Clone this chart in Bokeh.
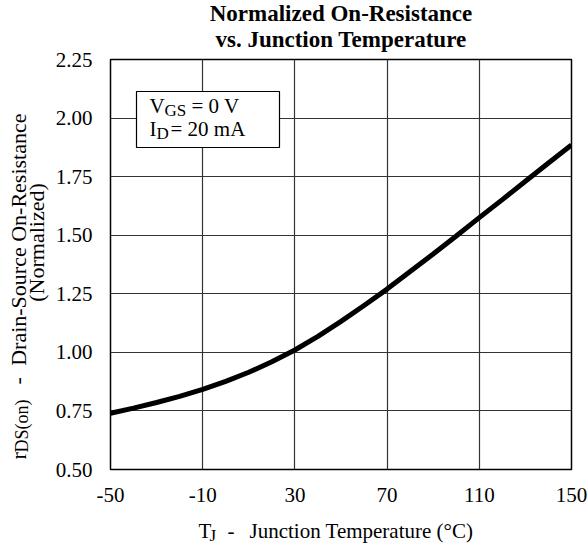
import numpy as np
from bokeh.plotting import figure
from bokeh.layouts import row, column
from bokeh.models import Range1d, FixedTicker, Label, BoxAnnotation
from bokeh.embed import file_html
from bokeh.resources import INLINE

# ---- data ----
temp_c = [-50, -40, -30, -20, -10, 0, 10, 20, 30, 40, 50, 60, 70,
          80, 90, 100, 110, 120, 130, 140, 150]
rds_norm = [0.740, 0.762, 0.786, 0.812, 0.842, 0.876, 0.915, 0.960, 1.010,
            1.068, 1.132, 1.200, 1.270, 1.345, 1.420, 1.497, 1.575,
            1.652, 1.730, 1.808, 1.885]
x_ticks = [-50, -10, 30, 70, 110, 150]
x_tick_labels = ["-50", "-10", "30", "70", "110", "150"]
y_ticks = [0.50, 0.75, 1.00, 1.25, 1.50, 1.75, 2.00, 2.25]
y_tick_labels = ["0.50", "0.75", "1.00", "1.25", "1.50", "1.75", "2.00", "2.25"]
title_lines = ["Normalized On-Resistance", "vs. Junction Temperature"]

FONT = "Liberation Serif"
X0, X1 = x_ticks[0], x_ticks[-1]
Y0, Y1 = y_ticks[0], y_ticks[-1]

# page geometry (pixels)
PW, PH = 587, 550
LW = 50            # width of left label strip
TH = 52            # height of title strip
FL, FR, FT, FB = 110, 571, 59, 469   # plot frame
XB = 515           # bottom of main figure / top of x-label strip
SHIFT = 0.3375     # label anchor sits this many em above the baseline


def blank_fig(w, h, x0, x1, y0, y1, bl=0, br=0, bt=0, bb=0):
    f = figure(width=w, height=h, output_backend="svg", toolbar_location=None,
               tools="", x_range=Range1d(x0, x1), y_range=Range1d(y1, y0),
               x_axis_type=None, y_axis_type=None,
               min_border=0, min_border_left=bl, min_border_right=br,
               min_border_top=bt, min_border_bottom=bb)
    f.title.visible = False
    f.outline_line_color = None
    f.grid.visible = False
    f.background_fill_color = "white"
    f.border_fill_color = "white"
    return f


def lab(f, text, px, py, size=21, align="left", rotated=False, bold=False):
    # (px, py) = page position of the text baseline start / centre / end
    if rotated:
        x, y, ang = px - SHIFT * size, py, np.pi / 2
    else:
        x, y, ang = px, py - SHIFT * size, 0.0
    f.add_layout(Label(x=x, y=y, text=text, text_font=FONT,
                       text_font_size=f"{size}px", text_align=align,
                       text_baseline="alphabetic", angle=ang,
                       text_color="black",
                       text_font_style="bold" if bold else "normal"))


# ---- main plot ----
MW, MH = PW - LW, XB - TH
p = figure(width=MW, height=MH, output_backend="svg", toolbar_location=None,
           tools="", x_range=Range1d(X0, X1), y_range=Range1d(Y0, Y1),
           min_border_left=FL - LW, min_border_right=PW - FR,
           min_border_top=FT - TH, min_border_bottom=XB - FB)
p.title.visible = False
p.background_fill_color = "white"
p.border_fill_color = "white"
p.outline_line_color = "black"
p.outline_line_width = 1.5


def dx(px):
    return X0 + (px - FL) / (FR - FL) * (X1 - X0)


def dy(py):
    return Y0 + (FB - py) / (FB - FT) * (Y1 - Y0)


for ax in (p.xaxis[0], p.yaxis[0]):
    ax.axis_line_color = None
    ax.major_tick_line_color = None
    ax.minor_tick_line_color = None
    ax.major_tick_in = 0
    ax.major_tick_out = 0
    ax.minor_tick_in = 0
    ax.minor_tick_out = 0
    ax.major_label_text_font = FONT
    ax.major_label_text_font_size = "21px"
    ax.major_label_text_color = "black"

p.xaxis.ticker = FixedTicker(ticks=x_ticks)
p.xaxis.major_label_overrides = {t: s for t, s in zip(x_ticks, x_tick_labels)}
p.xaxis.major_label_standoff = 18
p.yaxis.ticker = FixedTicker(ticks=y_ticks)
p.yaxis.major_label_overrides = {t: s for t, s in zip(y_ticks, y_tick_labels)}
p.yaxis.major_label_standoff = 18

p.xgrid.ticker = FixedTicker(ticks=x_ticks)
p.ygrid.ticker = FixedTicker(ticks=y_ticks)
for g in (p.xgrid[0], p.ygrid[0]):
    g.grid_line_color = "#333333"
    g.grid_line_width = 1.2

p.line(temp_c, rds_norm, line_color="black", line_width=5)

# condition box
p.add_layout(BoxAnnotation(left=dx(136), right=dx(279), top=dy(91), bottom=dy(147),
                           fill_color="white", fill_alpha=1.0,
                           line_color="black", line_alpha=1.0, line_width=1.2))


def blab(text, px, py, size=21):
    p.add_layout(Label(x=dx(px), y=dy(py - SHIFT * size), text=text,
                       text_font=FONT, text_font_size=f"{size}px",
                       text_align="left", text_baseline="alphabetic",
                       text_color="black"))


blab("V", 149, 113)
blab("GS", 164, 116, size=17)
blab("= 0 V", 191, 113)
blab("I", 149, 136)
blab("D", 156, 139, size=17)
blab("= 20 mA", 170, 136)

# ---- title strip (page coordinates) ----
tf = blank_fig(PW, TH, 0, PW, 0, TH)
lab(tf, title_lines[0], (FL + FR) / 2, 21, size=23, align="center", bold=True)
lab(tf, title_lines[1], (FL + FR) / 2, 47, size=23, align="center", bold=True)

# ---- left y-label strip (page coordinates) ----
lf = blank_fig(LW, PH - TH, 0, LW, TH, PH)
lab(lf, "r", 25, 459, size=22, rotated=True)
lab(lf, "DS(on)", 28, 452, size=18, rotated=True)
lab(lf, "-", 25, 384, size=22, rotated=True)
lab(lf, "Drain-Source On-Resistance", 25, 113, size=22, align="right", rotated=True)
lab(lf, "(Normalized)", 43, 242, size=22, align="center", rotated=True)

# ---- bottom x-label strip (page coordinates, frame aligned with plot) ----
bf = blank_fig(MW, PH - XB, FL, FR, XB, PH, bl=FL - LW, br=PW - FR)
lab(bf, "T", 198, 538)
lab(bf, "J", 209, 541, size=17)
lab(bf, "-", 227, 538)
lab(bf, "Junction Temperature (\u00b0C)", 249, 538)

layout = column(tf, row(lf, column(p, bf, spacing=0), spacing=0), spacing=0)

open("out.html", "w").write(file_html(layout, INLINE))
